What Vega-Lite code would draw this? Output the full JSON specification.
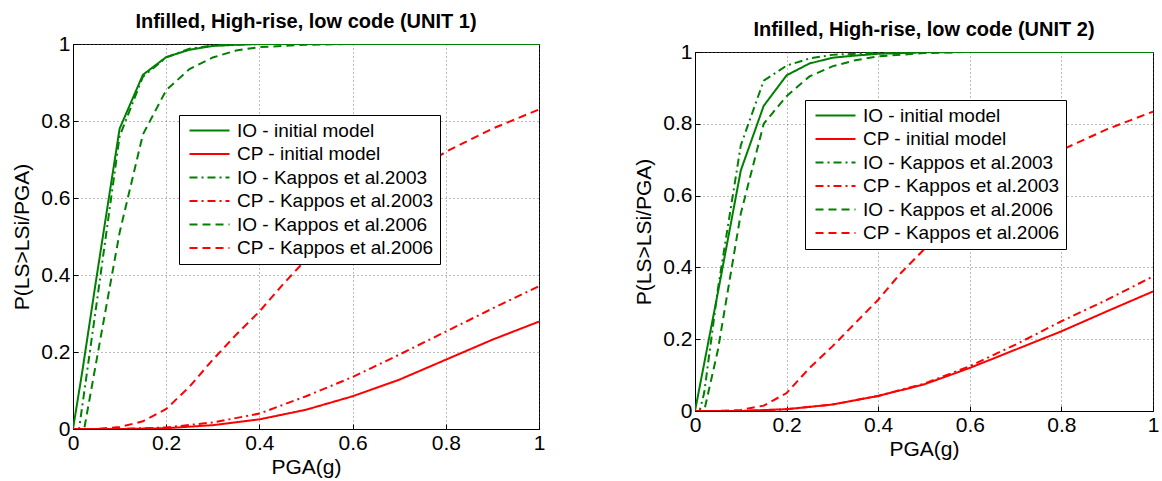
{
  "$schema": "https://vega.github.io/schema/vega-lite/v6.json",
  "padding": {"left": 11, "top": 11, "right": 5, "bottom": 0},
  "background": "white",
  "spacing": 87,
  "resolve": {"scale": {"color": "independent", "strokeDash": "independent"}},
  "datasets": {
    "unit1": [
      {"series": "IO - initial model", "x": 0, "y": 0},
      {"series": "IO - initial model", "x": 0.02, "y": 0.15},
      {"series": "IO - initial model", "x": 0.05, "y": 0.39},
      {"series": "IO - initial model", "x": 0.1, "y": 0.78},
      {"series": "IO - initial model", "x": 0.15, "y": 0.92},
      {"series": "IO - initial model", "x": 0.2, "y": 0.966},
      {"series": "IO - initial model", "x": 0.25, "y": 0.985},
      {"series": "IO - initial model", "x": 0.3, "y": 0.995},
      {"series": "IO - initial model", "x": 0.35, "y": 0.998},
      {"series": "IO - initial model", "x": 0.4, "y": 1},
      {"series": "IO - initial model", "x": 0.6, "y": 1},
      {"series": "IO - initial model", "x": 0.8, "y": 1},
      {"series": "IO - initial model", "x": 1, "y": 1},
      {"series": "CP - initial model", "x": 0, "y": 0},
      {"series": "CP - initial model", "x": 0.1, "y": 0},
      {"series": "CP - initial model", "x": 0.2, "y": 0.002},
      {"series": "CP - initial model", "x": 0.3, "y": 0.01},
      {"series": "CP - initial model", "x": 0.4, "y": 0.025},
      {"series": "CP - initial model", "x": 0.5, "y": 0.05},
      {"series": "CP - initial model", "x": 0.6, "y": 0.085},
      {"series": "CP - initial model", "x": 0.7, "y": 0.128},
      {"series": "CP - initial model", "x": 0.8, "y": 0.18},
      {"series": "CP - initial model", "x": 0.9, "y": 0.232},
      {"series": "CP - initial model", "x": 1, "y": 0.279},
      {"series": "IO - Kappos et al.2003", "x": 0, "y": 0},
      {"series": "IO - Kappos et al.2003", "x": 0.013, "y": 0},
      {"series": "IO - Kappos et al.2003", "x": 0.05, "y": 0.32},
      {"series": "IO - Kappos et al.2003", "x": 0.1, "y": 0.76},
      {"series": "IO - Kappos et al.2003", "x": 0.15, "y": 0.915},
      {"series": "IO - Kappos et al.2003", "x": 0.2, "y": 0.965},
      {"series": "IO - Kappos et al.2003", "x": 0.25, "y": 0.988},
      {"series": "IO - Kappos et al.2003", "x": 0.3, "y": 0.996},
      {"series": "IO - Kappos et al.2003", "x": 0.4, "y": 1},
      {"series": "IO - Kappos et al.2003", "x": 0.7, "y": 1},
      {"series": "IO - Kappos et al.2003", "x": 1, "y": 1},
      {"series": "CP - Kappos et al.2003", "x": 0, "y": 0},
      {"series": "CP - Kappos et al.2003", "x": 0.1, "y": 0},
      {"series": "CP - Kappos et al.2003", "x": 0.2, "y": 0.004},
      {"series": "CP - Kappos et al.2003", "x": 0.3, "y": 0.017},
      {"series": "CP - Kappos et al.2003", "x": 0.4, "y": 0.04},
      {"series": "CP - Kappos et al.2003", "x": 0.5, "y": 0.085},
      {"series": "CP - Kappos et al.2003", "x": 0.6, "y": 0.135},
      {"series": "CP - Kappos et al.2003", "x": 0.7, "y": 0.193},
      {"series": "CP - Kappos et al.2003", "x": 0.8, "y": 0.253},
      {"series": "CP - Kappos et al.2003", "x": 0.9, "y": 0.313},
      {"series": "CP - Kappos et al.2003", "x": 1, "y": 0.371},
      {"series": "IO - Kappos et al.2006", "x": 0, "y": 0},
      {"series": "IO - Kappos et al.2006", "x": 0.024, "y": 0},
      {"series": "IO - Kappos et al.2006", "x": 0.05, "y": 0.175},
      {"series": "IO - Kappos et al.2006", "x": 0.1, "y": 0.51},
      {"series": "IO - Kappos et al.2006", "x": 0.15, "y": 0.765},
      {"series": "IO - Kappos et al.2006", "x": 0.2, "y": 0.88},
      {"series": "IO - Kappos et al.2006", "x": 0.25, "y": 0.935},
      {"series": "IO - Kappos et al.2006", "x": 0.3, "y": 0.965},
      {"series": "IO - Kappos et al.2006", "x": 0.35, "y": 0.983},
      {"series": "IO - Kappos et al.2006", "x": 0.4, "y": 0.992},
      {"series": "IO - Kappos et al.2006", "x": 0.5, "y": 0.998},
      {"series": "IO - Kappos et al.2006", "x": 0.6, "y": 1},
      {"series": "IO - Kappos et al.2006", "x": 1, "y": 1},
      {"series": "CP - Kappos et al.2006", "x": 0, "y": 0},
      {"series": "CP - Kappos et al.2006", "x": 0.05, "y": 0},
      {"series": "CP - Kappos et al.2006", "x": 0.1, "y": 0.005},
      {"series": "CP - Kappos et al.2006", "x": 0.15, "y": 0.02},
      {"series": "CP - Kappos et al.2006", "x": 0.2, "y": 0.052},
      {"series": "CP - Kappos et al.2006", "x": 0.25, "y": 0.11},
      {"series": "CP - Kappos et al.2006", "x": 0.3, "y": 0.18},
      {"series": "CP - Kappos et al.2006", "x": 0.35, "y": 0.245},
      {"series": "CP - Kappos et al.2006", "x": 0.4, "y": 0.305},
      {"series": "CP - Kappos et al.2006", "x": 0.45, "y": 0.375},
      {"series": "CP - Kappos et al.2006", "x": 0.5, "y": 0.44},
      {"series": "CP - Kappos et al.2006", "x": 0.6, "y": 0.545},
      {"series": "CP - Kappos et al.2006", "x": 0.7, "y": 0.64},
      {"series": "CP - Kappos et al.2006", "x": 0.8, "y": 0.72},
      {"series": "CP - Kappos et al.2006", "x": 0.9, "y": 0.78},
      {"series": "CP - Kappos et al.2006", "x": 1, "y": 0.83}
    ],
    "unit2": [
      {"series": "IO - initial model", "x": 0, "y": 0},
      {"series": "IO - initial model", "x": 0.05, "y": 0.33},
      {"series": "IO - initial model", "x": 0.1, "y": 0.67},
      {"series": "IO - initial model", "x": 0.15, "y": 0.85},
      {"series": "IO - initial model", "x": 0.2, "y": 0.935},
      {"series": "IO - initial model", "x": 0.25, "y": 0.968},
      {"series": "IO - initial model", "x": 0.3, "y": 0.984},
      {"series": "IO - initial model", "x": 0.35, "y": 0.99},
      {"series": "IO - initial model", "x": 0.4, "y": 0.995},
      {"series": "IO - initial model", "x": 0.5, "y": 0.999},
      {"series": "IO - initial model", "x": 0.6, "y": 1},
      {"series": "IO - initial model", "x": 1, "y": 1},
      {"series": "CP - initial model", "x": 0, "y": 0},
      {"series": "CP - initial model", "x": 0.1, "y": 0},
      {"series": "CP - initial model", "x": 0.2, "y": 0.005},
      {"series": "CP - initial model", "x": 0.3, "y": 0.018},
      {"series": "CP - initial model", "x": 0.4, "y": 0.042},
      {"series": "CP - initial model", "x": 0.5, "y": 0.074},
      {"series": "CP - initial model", "x": 0.6, "y": 0.12},
      {"series": "CP - initial model", "x": 0.7, "y": 0.171},
      {"series": "CP - initial model", "x": 0.8, "y": 0.222},
      {"series": "CP - initial model", "x": 0.9, "y": 0.278},
      {"series": "CP - initial model", "x": 1, "y": 0.333},
      {"series": "IO - Kappos et al.2003", "x": 0, "y": 0},
      {"series": "IO - Kappos et al.2003", "x": 0.01, "y": 0},
      {"series": "IO - Kappos et al.2003", "x": 0.02, "y": 0.05},
      {"series": "IO - Kappos et al.2003", "x": 0.05, "y": 0.34},
      {"series": "IO - Kappos et al.2003", "x": 0.1, "y": 0.74},
      {"series": "IO - Kappos et al.2003", "x": 0.15, "y": 0.92},
      {"series": "IO - Kappos et al.2003", "x": 0.2, "y": 0.962},
      {"series": "IO - Kappos et al.2003", "x": 0.25, "y": 0.982},
      {"series": "IO - Kappos et al.2003", "x": 0.3, "y": 0.992},
      {"series": "IO - Kappos et al.2003", "x": 0.4, "y": 0.998},
      {"series": "IO - Kappos et al.2003", "x": 0.5, "y": 1},
      {"series": "IO - Kappos et al.2003", "x": 1, "y": 1},
      {"series": "CP - Kappos et al.2003", "x": 0, "y": 0},
      {"series": "CP - Kappos et al.2003", "x": 0.1, "y": 0},
      {"series": "CP - Kappos et al.2003", "x": 0.2, "y": 0.005},
      {"series": "CP - Kappos et al.2003", "x": 0.3, "y": 0.018},
      {"series": "CP - Kappos et al.2003", "x": 0.4, "y": 0.042},
      {"series": "CP - Kappos et al.2003", "x": 0.5, "y": 0.076},
      {"series": "CP - Kappos et al.2003", "x": 0.6, "y": 0.125},
      {"series": "CP - Kappos et al.2003", "x": 0.7, "y": 0.185},
      {"series": "CP - Kappos et al.2003", "x": 0.8, "y": 0.25},
      {"series": "CP - Kappos et al.2003", "x": 0.9, "y": 0.31},
      {"series": "CP - Kappos et al.2003", "x": 1, "y": 0.375},
      {"series": "IO - Kappos et al.2006", "x": 0, "y": 0},
      {"series": "IO - Kappos et al.2006", "x": 0.02, "y": 0},
      {"series": "IO - Kappos et al.2006", "x": 0.05, "y": 0.17},
      {"series": "IO - Kappos et al.2006", "x": 0.1, "y": 0.55},
      {"series": "IO - Kappos et al.2006", "x": 0.15, "y": 0.8},
      {"series": "IO - Kappos et al.2006", "x": 0.2, "y": 0.877},
      {"series": "IO - Kappos et al.2006", "x": 0.25, "y": 0.932},
      {"series": "IO - Kappos et al.2006", "x": 0.3, "y": 0.96},
      {"series": "IO - Kappos et al.2006", "x": 0.35, "y": 0.977},
      {"series": "IO - Kappos et al.2006", "x": 0.4, "y": 0.988},
      {"series": "IO - Kappos et al.2006", "x": 0.5, "y": 0.997},
      {"series": "IO - Kappos et al.2006", "x": 0.6, "y": 1},
      {"series": "IO - Kappos et al.2006", "x": 1, "y": 1},
      {"series": "CP - Kappos et al.2006", "x": 0, "y": 0},
      {"series": "CP - Kappos et al.2006", "x": 0.05, "y": 0},
      {"series": "CP - Kappos et al.2006", "x": 0.1, "y": 0.003},
      {"series": "CP - Kappos et al.2006", "x": 0.15, "y": 0.015},
      {"series": "CP - Kappos et al.2006", "x": 0.2, "y": 0.05},
      {"series": "CP - Kappos et al.2006", "x": 0.25, "y": 0.12},
      {"series": "CP - Kappos et al.2006", "x": 0.3, "y": 0.18},
      {"series": "CP - Kappos et al.2006", "x": 0.35, "y": 0.245},
      {"series": "CP - Kappos et al.2006", "x": 0.4, "y": 0.31},
      {"series": "CP - Kappos et al.2006", "x": 0.45, "y": 0.385},
      {"series": "CP - Kappos et al.2006", "x": 0.5, "y": 0.45},
      {"series": "CP - Kappos et al.2006", "x": 0.6, "y": 0.55},
      {"series": "CP - Kappos et al.2006", "x": 0.7, "y": 0.645},
      {"series": "CP - Kappos et al.2006", "x": 0.8, "y": 0.727},
      {"series": "CP - Kappos et al.2006", "x": 0.9, "y": 0.785},
      {"series": "CP - Kappos et al.2006", "x": 1, "y": 0.834}
    ]
  },
  "hconcat": [
    {
      "width": 466,
      "height": 385,
      "title": {"text": "Infilled, High-rise, low code (UNIT 1)", "offset": 1},
      "data": {"name": "unit1"},
      "mark": {"type": "line", "strokeWidth": 2, "clip": true},
      "encoding": {
        "x": {"field": "x", "type": "quantitative", "title": "PGA(g)", "scale": {"domain": [0, 1], "nice": false}, "axis": {"values": [0, 0.2, 0.4, 0.6, 0.8, 1]}},
        "y": {"field": "y", "type": "quantitative", "title": "P(LS>LSi/PGA)", "scale": {"domain": [0, 1], "nice": false}, "axis": {"values": [0, 0.2, 0.4, 0.6, 0.8, 1]}},
        "color": {
          "field": "series", "type": "nominal",
          "scale": {"domain": ["IO - initial model", "CP - initial model", "IO - Kappos et al.2003", "CP - Kappos et al.2003", "IO - Kappos et al.2006", "CP - Kappos et al.2006"], "range": ["#008000", "#ff0000", "#008000", "#ff0000", "#008000", "#ff0000"]},
          "legend": {"orient": "none", "legendX": 106, "legendY": 71}
        },
        "strokeDash": {
          "field": "series", "type": "nominal",
          "scale": {"domain": ["IO - initial model", "CP - initial model", "IO - Kappos et al.2003", "CP - Kappos et al.2003", "IO - Kappos et al.2006", "CP - Kappos et al.2006"], "range": [[1, 0], [1, 0], [8, 4, 2, 4], [8, 4, 2, 4], [8, 5], [8, 5]]},
          "legend": {"orient": "none", "legendX": 106, "legendY": 71}
        },
        "order": {"field": "x", "type": "quantitative"}
      }
    },
    {
      "bounds": "flush",
      "spacing": 0,
      "vconcat": [
        {
          "width": 458,
          "height": 8,
          "data": {"name": "unit2"},
          "mark": {"type": "rule", "opacity": 0},
          "encoding": {},
          "view": {"stroke": null}
        },
        {
          "width": 458,
          "height": 359,
          "title": {"text": "Infilled, High-rise, low code (UNIT 2)", "offset": 1},
          "data": {"name": "unit2"},
          "mark": {"type": "line", "strokeWidth": 2, "clip": true},
          "encoding": {
            "x": {"field": "x", "type": "quantitative", "title": "PGA(g)", "scale": {"domain": [0, 1], "nice": false}, "axis": {"values": [0, 0.2, 0.4, 0.6, 0.8, 1]}},
            "y": {"field": "y", "type": "quantitative", "title": "P(LS>LSi/PGA)", "scale": {"domain": [0, 1], "nice": false}, "axis": {"values": [0, 0.2, 0.4, 0.6, 0.8, 1]}},
            "color": {
              "field": "series", "type": "nominal",
              "scale": {"domain": ["IO - initial model", "CP - initial model", "IO - Kappos et al.2003", "CP - Kappos et al.2003", "IO - Kappos et al.2006", "CP - Kappos et al.2006"], "range": ["#008000", "#ff0000", "#008000", "#ff0000", "#008000", "#ff0000"]},
              "legend": {"orient": "none", "legendX": 110, "legendY": 56}
            },
            "strokeDash": {
              "field": "series", "type": "nominal",
              "scale": {"domain": ["IO - initial model", "CP - initial model", "IO - Kappos et al.2003", "CP - Kappos et al.2003", "IO - Kappos et al.2006", "CP - Kappos et al.2006"], "range": [[1, 0], [1, 0], [8, 4, 2, 4], [8, 4, 2, 4], [8, 5], [8, 5]]},
              "legend": {"orient": "none", "legendX": 110, "legendY": 56}
            },
            "order": {"field": "x", "type": "quantitative"}
          }
        }
      ]
    }
  ],
  "config": {
    "font": "Liberation Sans",
    "view": {"stroke": "black", "strokeWidth": 1},
    "title": {"font": "Liberation Sans", "fontSize": 20, "fontWeight": "bold", "color": "black", "anchor": "middle"},
    "axis": {
      "format": "~g",
      "labelFont": "Liberation Sans",
      "labelFontSize": 21,
      "labelColor": "black",
      "titleFont": "Liberation Sans",
      "titleFontSize": 21,
      "titleFontWeight": "normal",
      "titleColor": "black",
      "domainColor": "black",
      "tickColor": "black",
      "tickSize": -5,
      "labelPadding": 8,
      "gridColor": "#555555",
      "gridDash": [1, 3],
      "gridOpacity": 0.8,
      "labelFlush": false,
      "labelOverlap": false
    },
    "axisX": {"titlePadding": 3},
    "axisY": {"titlePadding": 8},
    "legend": {
      "title": null,
      "labelFont": "Liberation Sans",
      "labelFontSize": 19,
      "labelColor": "black",
      "labelLimit": 400,
      "strokeColor": "black",
      "fillColor": "white",
      "padding": 6,
      "rowPadding": 3.5,
      "symbolType": "M-1,0L7,0",
      "symbolSize": 100,
      "symbolStrokeWidth": 2,
      "labelOffset": 33,
      "cornerRadius": 0
    }
  }
}
